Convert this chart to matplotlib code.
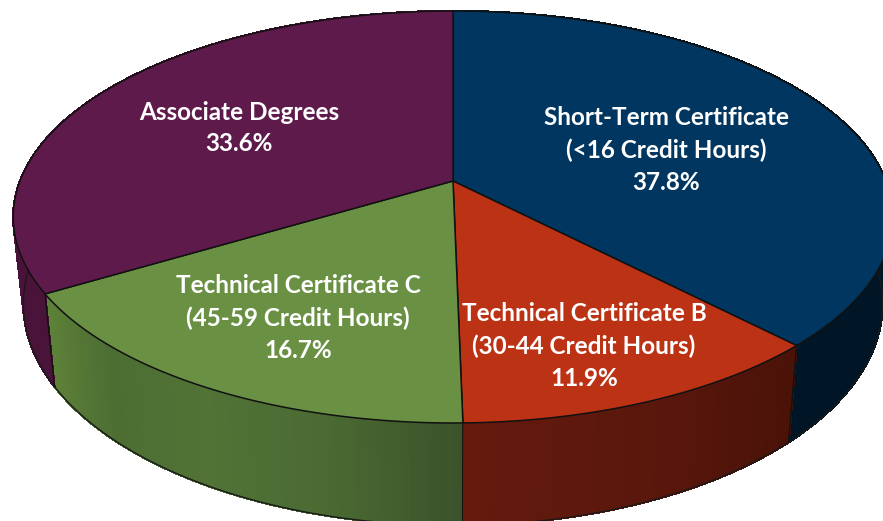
import numpy as np
import matplotlib
matplotlib.use('Agg')
import matplotlib.pyplot as plt
from matplotlib.colors import to_rgb

# values go clockwise from 12 o'clock
names = ['Short-Term Certificate\n(<16 Credit Hours)',
         'Technical Certificate B\n(30-44 Credit Hours)',
         'Technical Certificate C\n(45-59 Credit Hours)',
         'Associate Degrees']
shares = [37.8, 11.9, 16.7, 33.6]
top_colors = ['#003660', '#BC3215', '#6A9143', '#5F1A4C']
wall_colors = [['#001A2E', '#001626', '#001626'],
               ['#4A1208', '#5A170C', '#651A0D'],
               ['#3C512A', '#4A6A32', '#517336', '#4C6E33', '#5F8239'],
               ['#4A1339', '#4A1339']]
label_xy = [(666, 150), (584, 346), (298, 318), (239, 128)]

# perspective view of the pie, in pixels
cx, k = 453, 0.1747
top_rx, top_cy, top_ry = 433, 181, 199.7
bot_rx, bot_cy, bot_ry = 423, 265, 215


def project(t, rx, cy, ry):
    u, v = np.cos(t), np.sin(t)
    d = 1 + k * v
    return cx + rx * u / d, cy - ry * v / d


def blend(stops, f):
    c = np.array([to_rgb(s) for s in stops])
    pos = np.linspace(0, 1, len(stops))
    return [np.interp(f, pos, c[:, i]) for i in range(3)]


fig = plt.figure(figsize=(8.83, 5.21), dpi=100)
ax = fig.add_axes([0, 0, 1, 1])
ax.set_xlim(0, 883)
ax.set_ylim(521, 0)
ax.axis('off')

edges = np.pi / 2 - 2 * np.pi * np.cumsum([0] + shares) / sum(shares)

# side walls, thin strips for the gradient
for i in range(4):
    a, b = edges[i], edges[i + 1]
    n = 90
    ts = np.linspace(a, b, n + 1)
    for j in range(n):
        t = np.array([ts[j], ts[j + 1]])
        x1, y1 = project(t, top_rx, top_cy, top_ry)
        x2, y2 = project(t[::-1], bot_rx, bot_cy, bot_ry)
        col = blend(wall_colors[i], (j + 0.5) / n)
        ax.fill(np.r_[x1, x2], np.r_[y1, y2], color=col, lw=1.0,
                antialiased=False, zorder=2)

# outline of the bottom rim and the wall corners
ts = np.linspace(np.radians(-215), np.radians(35), 400)
ax.plot(*project(ts, bot_rx, bot_cy, bot_ry), color='#1a1a1a', lw=1.0, zorder=3)
for e in edges[1:4]:
    x1, y1 = project(e, top_rx, top_cy, top_ry)
    x2, y2 = project(e, bot_rx, bot_cy, bot_ry)
    ax.plot([x1, x2], [y1, y2], color='#111111', lw=1.0, zorder=3)

# top slices
for i in range(4):
    ts = np.linspace(edges[i], edges[i + 1], 200)
    x, y = project(ts, top_rx, top_cy, top_ry)
    ax.fill(np.r_[cx, x], np.r_[top_cy, y], facecolor=top_colors[i],
            edgecolor='#111111', lw=1.1, joinstyle='round', zorder=4)

for name, share, (x, y) in zip(names, shares, label_xy):
    ax.text(x, y, f'{name}\n{share:.1f}%', color='white', family='Lato',
            fontweight='bold', fontsize=17.5, ha='center', va='center',
            linespacing=1.46, zorder=5)

fig.savefig('out.png', dpi=100)
